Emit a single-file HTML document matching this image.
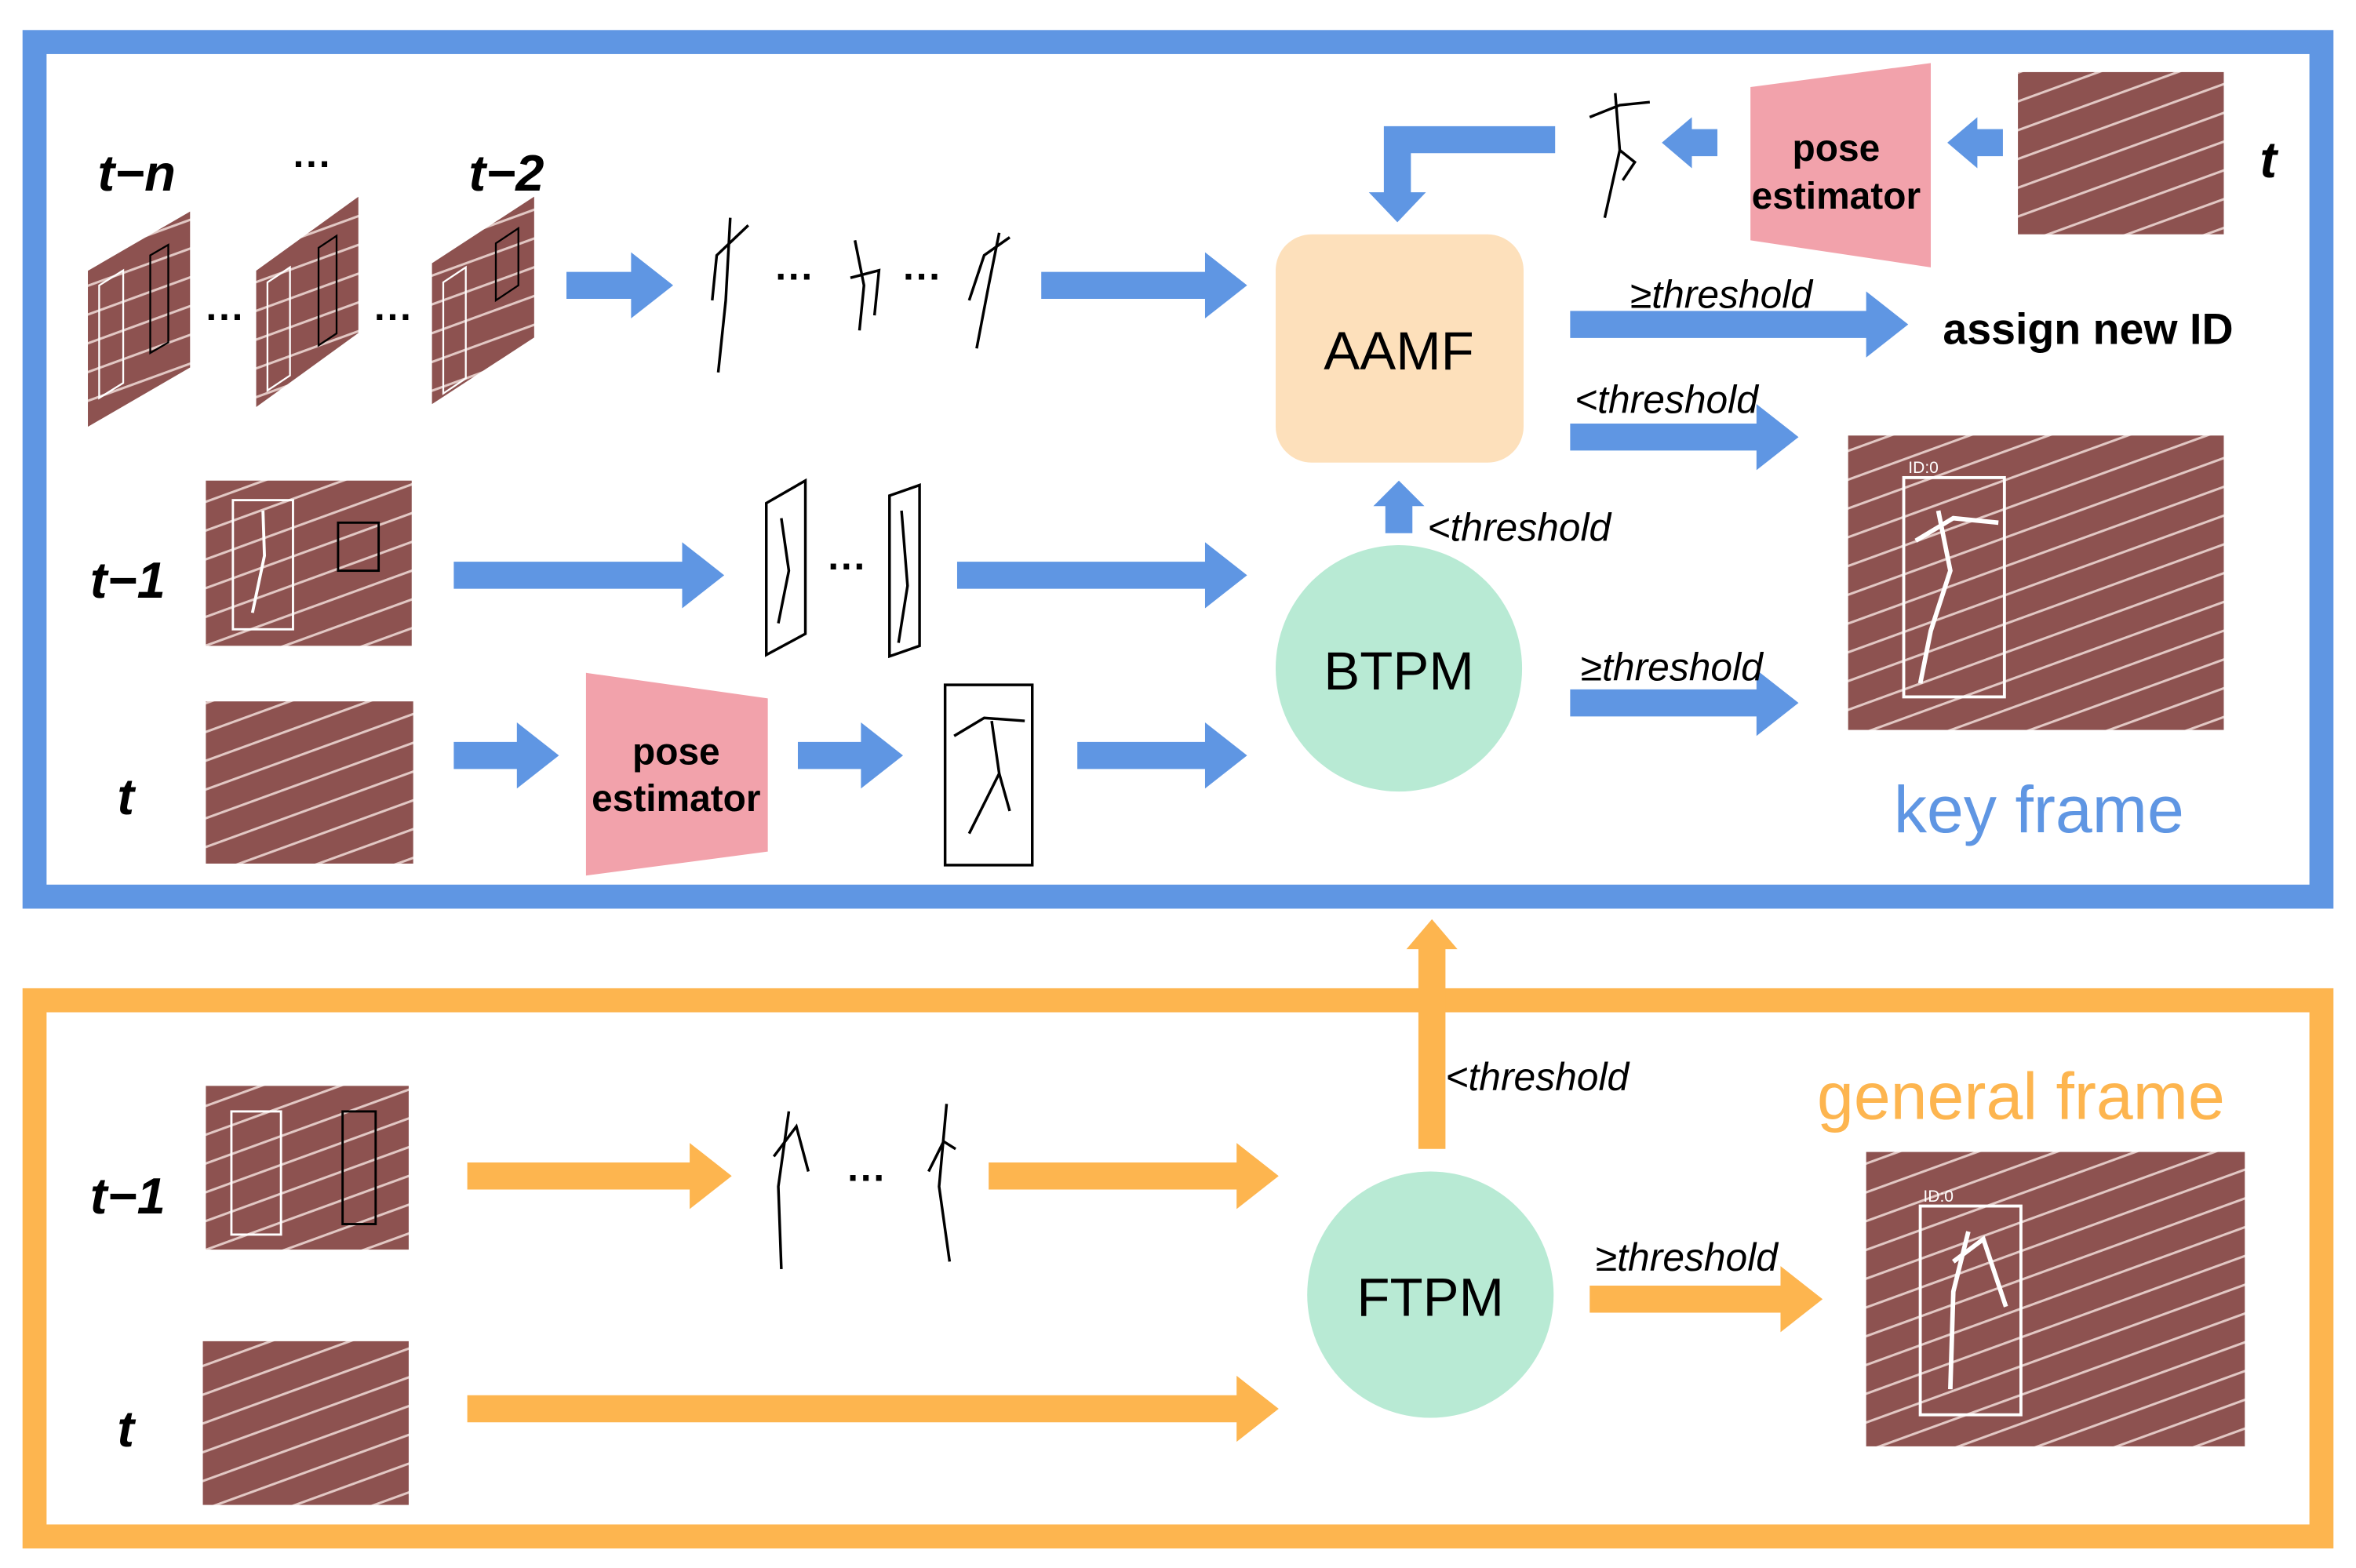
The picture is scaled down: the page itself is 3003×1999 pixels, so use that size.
<!DOCTYPE html>
<html><head><meta charset="utf-8"><style>
html,body{margin:0;padding:0;background:#fff;}
svg{display:block;}
text{font-family:"Liberation Sans",sans-serif;}
</style></head><body>
<svg width="3003" height="1999" viewBox="0 0 1568 1044" preserveAspectRatio="none" xmlns="http://www.w3.org/2000/svg">
<defs>
<pattern id="trk" width="40" height="18" patternUnits="userSpaceOnUse" patternTransform="rotate(-20)">
<rect width="40" height="18" fill="#8d5250"/>
<rect y="0" width="40" height="1.6" fill="#e2c8c4"/>
</pattern>
</defs>
<rect width="1568" height="1044" fill="#fff"/>
<rect x="23" y="28" width="1522" height="569" fill="none" stroke="#5f96e3" stroke-width="16"/>
<rect x="23" y="666" width="1522" height="357" fill="none" stroke="#fdb54f" stroke-width="16"/>

<g fill="#5f96e3">
<polygon points="377,181 420,181 420,168 448,190 420,212 420,199 377,199"/>
<polygon points="693,181 802,181 802,168 830,190 802,212 802,199 693,199"/>
<polygon points="302,374 454,374 454,361 482,383 454,405 454,392 302,392"/>
<polygon points="637,374 802,374 802,361 830,383 802,405 802,392 637,392"/>
<polygon points="302,494 344,494 344,481 372,503 344,525 344,512 302,512"/>
<polygon points="531,494 573,494 573,481 601,503 573,525 573,512 531,512"/>
<polygon points="717,494 802,494 802,481 830,503 802,525 802,512 717,512"/>
<polygon points="1045,207 1242,207 1242,194 1270,216 1242,238 1242,225 1045,225"/>
<polygon points="1045,282 1169,282 1169,269 1197,291 1169,313 1169,300 1045,300"/>
<polygon points="1045,459 1169,459 1169,446 1197,468 1169,490 1169,477 1045,477"/>
<polygon points="922,355 922,337 914,337 931,320 948,337 940,337 940,355"/>
<polygon points="1333,86 1316,86 1316,78 1296,95 1316,112 1316,104 1333,104"/>
<polygon points="1143,86 1126,86 1126,78 1106,95 1126,112 1126,104 1143,104"/>
<polygon points="1035,84 921,84 921,128 911,128 930,148 949,128 939,128 939,102 1035,102"/>
</g>
<g fill="#fdb54f">
<polygon points="311,774 459,774 459,761 487,783 459,805 459,792 311,792"/>
<polygon points="658,774 823,774 823,761 851,783 823,805 823,792 658,792"/>
<polygon points="311,929 823,929 823,916 851,938 823,960 823,947 311,947"/>
<polygon points="1058,856 1185,856 1185,843 1213,865 1185,887 1185,874 1058,874"/>
<polygon points="944,765 944,632 936,632 953,612 970,632 962,632 962,765"/>
</g>

<rect x="849" y="156" width="165" height="152" rx="24" fill="#fde0bb"/>
<text x="931" y="246" font-size="36" text-anchor="middle">AAMF</text>
<circle cx="931" cy="445" r="82" fill="#b8ead4"/>
<text x="931" y="459" font-size="36" text-anchor="middle">BTPM</text>
<circle cx="952" cy="862" r="82" fill="#b8ead4"/>
<text x="952" y="876" font-size="36" text-anchor="middle">FTPM</text>

<polygon points="390,448 511,465 511,567 390,583" fill="#f2a2ab"/>
<text x="450" y="509" font-size="25" font-weight="bold" text-anchor="middle">pose</text>
<text x="450" y="540" font-size="25" font-weight="bold" text-anchor="middle">estimator</text>
<polygon points="1165,58 1285,42 1285,178 1165,160" fill="#f2a2ab"/>
<text x="1222" y="107" font-size="25" font-weight="bold" text-anchor="middle">pose</text>
<text x="1222" y="139" font-size="25" font-weight="bold" text-anchor="middle">estimator</text>

<g font-size="34" font-weight="bold" font-style="italic">
<text x="65" y="127">t−n</text>
<text x="312" y="127">t−2</text>
<text x="60" y="398">t−1</text>
<text x="78" y="542">t</text>
<text x="1504" y="118">t</text>
<text x="60" y="808">t−1</text>
<text x="78" y="963">t</text>
</g>
<text x="195" y="118" font-size="26" font-weight="bold">···</text>
<g font-size="26" font-style="italic">
<text x="1085" y="205">≥threshold</text>
<text x="1048" y="275">&lt;threshold</text>
<text x="950" y="360">&lt;threshold</text>
<text x="1052" y="453">≥threshold</text>
<text x="962" y="726">&lt;threshold</text>
<text x="1062" y="846">≥threshold</text>
</g>
<text x="1293" y="229" font-size="29" font-weight="bold">assign new ID</text>
<text x="1357" y="554" font-size="44" fill="#5f96e3" text-anchor="middle">key frame</text>
<text x="1345" y="745" font-size="44" fill="#fdb54f" text-anchor="middle">general frame</text>
<g font-size="26" font-weight="bold">
<text x="137" y="220">···</text><text x="249" y="220">···</text>
<text x="516" y="193">···</text><text x="601" y="193">···</text>
<text x="551" y="386">···</text>
<text x="564" y="793">···</text>
</g>

<g stroke="#ffffff" stroke-width="1">
<polygon points="58,180 127,140 127,245 58,285" fill="url(#trk)"/>
<polygon points="170,180 239,130 239,222 170,272" fill="url(#trk)"/>
<polygon points="287,175 356,130 356,225 287,270" fill="url(#trk)"/>
</g>
<g fill="none" stroke-width="1.2">
<polygon points="66,190 82,180 82,255 66,265" stroke="#fff"/>
<polygon points="100,170 112,163 112,228 100,235" stroke="#000"/>
<polygon points="178,188 193,178 193,250 178,260" stroke="#fff"/>
<polygon points="212,165 224,157 224,222 212,230" stroke="#000"/>
<polygon points="295,188 310,178 310,252 295,262" stroke="#fff"/>
<polygon points="330,162 345,152 345,190 330,200" stroke="#000"/>
</g>

<rect x="137" y="320" width="137" height="110" fill="url(#trk)"/>
<rect x="155" y="333" width="40" height="86" fill="none" stroke="#fff" stroke-width="1.5"/>
<rect x="225" y="348" width="27" height="32" fill="none" stroke="#000" stroke-width="1.5"/>
<polyline points="175,340 176,370 168,408" fill="none" stroke="#fff" stroke-width="2"/>
<rect x="137" y="467" width="138" height="108" fill="url(#trk)"/>
<rect x="1343" y="48" width="137" height="108" fill="url(#trk)"/>
<rect x="137" y="723" width="135" height="109" fill="url(#trk)"/>
<rect x="154" y="740" width="33" height="82" fill="none" stroke="#fff" stroke-width="1.5"/>
<rect x="228" y="740" width="22" height="75" fill="none" stroke="#000" stroke-width="1.5"/>
<rect x="135" y="893" width="137" height="109" fill="url(#trk)"/>
<rect x="1230" y="290" width="250" height="196" fill="url(#trk)"/>
<rect x="1267" y="318" width="67" height="146" fill="none" stroke="#fff" stroke-width="2"/>
<polyline points="1290,340 1298,380 1285,420 1278,455" fill="none" stroke="#fff" stroke-width="3"/>
<polyline points="1275,360 1300,345 1330,348" fill="none" stroke="#fff" stroke-width="3"/>
<text x="1270" y="315" font-size="11" fill="#fff">ID:0</text>
<rect x="1242" y="767" width="252" height="196" fill="url(#trk)"/>
<rect x="1278" y="803" width="67" height="139" fill="none" stroke="#fff" stroke-width="2"/>
<polyline points="1310,820 1300,860 1298,925" fill="none" stroke="#fff" stroke-width="3"/>
<polyline points="1300,840 1320,825 1335,870" fill="none" stroke="#fff" stroke-width="3"/>
<text x="1280" y="800" font-size="11" fill="#fff">ID:0</text>

<g fill="none" stroke="#000" stroke-width="1.8">
<polyline points="486,145 483,200 478,248"/><polyline points="474,200 477,170 498,150"/>
<polyline points="569,160 575,190 572,220"/><polyline points="566,185 585,180 582,210"/>
<polyline points="665,155 658,190 650,232"/><polyline points="645,200 655,170 672,158"/>
<polyline points="1075,62 1078,100 1068,145"/><polyline points="1058,78 1078,70 1098,68"/><polyline points="1078,100 1088,108 1080,120"/>
<polygon points="510,335 536,320 536,422 510,436"/>
<polyline points="520,345 525,380 518,415"/>
<polygon points="592,330 612,323 612,430 592,437"/>
<polyline points="600,340 604,390 598,428"/>
<rect x="629" y="456" width="58" height="120"/>
<polyline points="660,480 665,515 645,555"/><polyline points="635,490 655,478 682,480"/><polyline points="665,515 672,540"/>
<polyline points="525,740 518,790 520,845"/><polyline points="515,770 530,750 538,780"/>
<polyline points="630,735 625,790 632,840"/><polyline points="618,780 628,760 636,765"/>
</g>
</svg>
</body></html>
